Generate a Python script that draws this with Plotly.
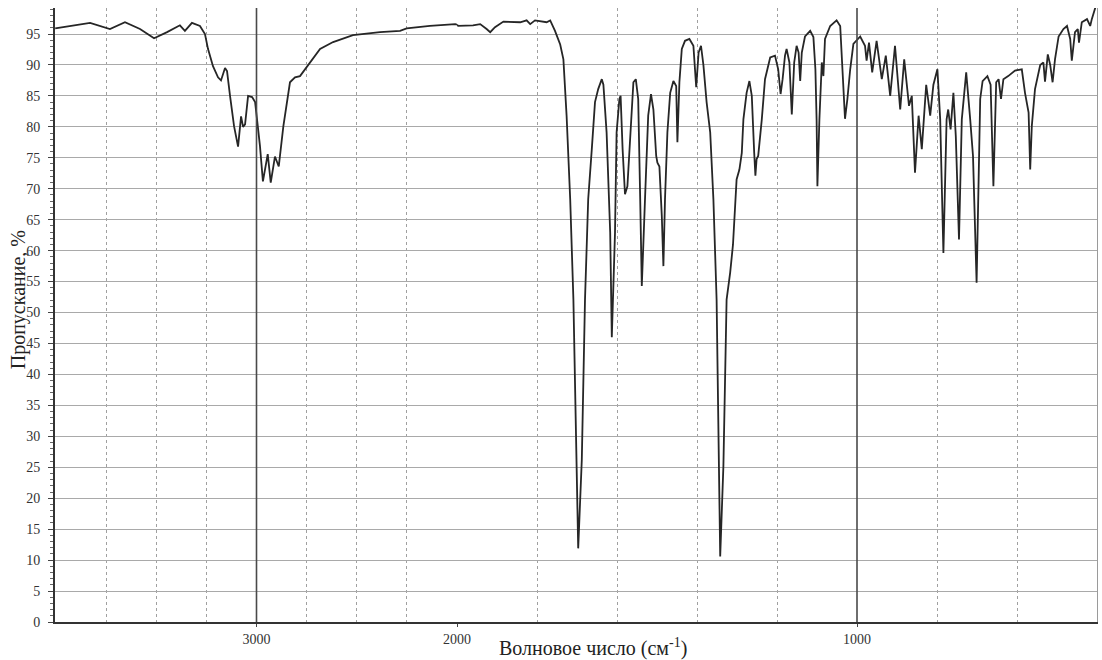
import plotly.graph_objects as go
from plotly.subplots import make_subplots

# IR spectrum (cm-1, % transmittance)
WAVENUMBER = [
    4004, 3830, 3731, 3656, 3581, 3511, 3446, 3382, 3357, 3322, 3282, 3257,
    3242, 3217, 3192, 3177, 3157, 3147, 3132, 3112, 3092, 3082, 3077, 3067,
    3057, 3042, 3022, 3007, 2983, 2968, 2944, 2929, 2908, 2889, 2866, 2833,
    2808, 2783, 2758, 2725, 2683, 2618, 2519, 2384, 2284, 2251, 2135, 2009,
    2000,
    1997, 1960, 1942, 1926, 1917, 1905, 1884, 1842, 1826, 1817, 1805, 1776,
    1767, 1755, 1742, 1734, 1726, 1717, 1709, 1697, 1688, 1680, 1672, 1663,
    1655, 1647, 1638, 1634, 1626, 1617, 1613, 1605, 1601, 1594, 1591, 1586,
    1580, 1574, 1567, 1559, 1553, 1547, 1542, 1538, 1530, 1522, 1515, 1509,
    1502, 1499, 1494, 1488, 1484, 1480, 1474, 1467, 1459, 1452, 1449, 1444,
    1438, 1430, 1419, 1409, 1402, 1396, 1390, 1384, 1376, 1367, 1359, 1351,
    1342, 1334, 1326, 1317, 1310, 1301, 1294, 1288, 1284, 1276, 1269, 1263,
    1257, 1254, 1251, 1247, 1238, 1230, 1217, 1205, 1197, 1194, 1191, 1186,
    1180, 1176, 1169, 1163, 1157, 1151, 1146, 1142, 1138, 1130, 1117, 1109,
    1104, 1101, 1099, 1094, 1088, 1084, 1080, 1067, 1051, 1042, 1036, 1030,
    1024, 1017, 1009, 992, 980, 976, 970, 962, 951, 938, 928, 917, 905, 892,
    882, 870, 863, 855, 846, 838, 827, 817, 809, 799, 792, 784, 776, 772,
    766, 759, 753, 745, 738, 727, 717, 710, 701, 692, 686, 674, 666, 659,
    652, 646, 640, 634, 622, 605, 588, 580, 571, 567, 563, 555, 542, 534,
    530, 523, 517, 511, 505, 496, 484, 475, 467, 463, 455, 448, 445, 438,
    425, 417, 413, 404,
]
TRANSMITTANCE = [
    95.9, 96.8, 95.8, 96.9, 95.8, 94.3, 95.3, 96.4, 95.5, 96.8, 96.3, 95.0,
    92.6, 89.8, 88.0, 87.5, 89.5, 89.0, 85.0, 80.1, 76.8, 80.0, 81.7, 80.0,
    80.4, 85.0, 84.8, 84.0, 77.0, 71.2, 75.6, 71.0, 75.2, 73.6, 80.1, 87.2,
    88.0, 88.2, 89.3, 90.7, 92.6, 93.7, 94.8, 95.3, 95.5, 95.9, 96.3, 96.6,
    96.5,
    96.3, 96.4, 96.6, 95.8, 95.3, 96.1, 97.0, 96.9, 97.2, 96.6, 97.2, 96.9,
    97.2, 95.5, 93.3, 90.9, 81.8, 68.3, 52.1, 11.9, 26.2, 52.1, 68.3, 76.4,
    84.0, 86.1, 87.7, 86.8, 79.1, 62.9, 46.0, 62.9, 79.1, 84.5, 85.0, 76.4,
    69.1, 70.4, 79.1, 87.2, 87.7, 84.5, 68.3, 54.3, 68.3, 81.8, 85.3, 82.8,
    75.3, 74.2, 73.6, 65.6, 57.5, 68.3, 79.1, 85.5, 87.4, 86.6, 77.5, 87.2,
    92.6, 93.9, 94.2, 93.1, 86.4, 92.0, 93.1, 90.0, 84.0, 79.1, 68.3, 52.1,
    10.6, 25.2, 52.1, 56.5, 61.0, 71.5, 73.1, 75.8, 81.2, 85.5, 87.4, 85.0,
    75.8, 72.1, 74.8, 75.3, 81.2, 87.7, 91.2, 91.5, 89.3, 86.8, 85.3, 87.7,
    91.5, 92.6, 90.4, 82.0, 90.4, 93.1, 92.0, 87.4, 92.0, 94.6, 95.5, 94.5,
    89.3, 81.2, 70.4, 81.2, 90.4, 88.2, 94.2, 96.3, 97.2, 96.3, 89.3, 81.3,
    84.5, 89.3, 93.4, 94.6, 93.1, 90.7, 93.6, 88.8, 93.9, 87.7, 91.5, 85.0,
    93.1, 82.8, 90.9, 83.4, 85.0, 72.6, 81.8, 76.4, 86.8, 81.8, 86.8, 89.3,
    81.2, 59.6, 81.2, 82.8, 79.6, 85.5, 78.5, 61.8, 81.2, 88.8, 81.2, 75.3,
    54.8, 84.5, 87.4, 88.2, 86.8, 70.4, 87.2, 87.7, 84.5, 87.7, 88.2, 89.1,
    89.3, 85.5, 82.3, 73.1, 80.1, 86.1, 90.0, 90.4, 87.3, 91.7, 90.0, 87.2,
    90.9, 94.6, 95.8, 96.3, 94.2, 90.7, 95.3, 95.8, 93.6, 96.9, 97.4, 96.3,
    97.4, 99.3,
]

Y_TICKS = list(range(0, 100, 5))
X_TICKS_HIGH = [3000]
X_TICKS_LOW = [2000, 1000]
GRID_HIGH = [3750, 3500, 3250, 2750, 2500, 2250]
GRID_LOW = [2000, 1800, 1600, 1400, 1200, 800, 600]
X1_RANGE = [4005, 2000]
X2_RANGE = [2000, 400]
Y_RANGE = [0, 99.2]

FONT = "Liberation Serif, Times New Roman, serif"
LINE_COLOR = "#262626"
GRID_COLOR = "#a9a9a9"
DOT_COLOR = "#a0a0a0"

brk = X2_RANGE[0]
high_x = [w for w in WAVENUMBER if w >= brk]
high_y = [t for w, t in zip(WAVENUMBER, TRANSMITTANCE) if w >= brk]
low_x = [w for w in WAVENUMBER if w <= brk]
low_y = [t for w, t in zip(WAVENUMBER, TRANSMITTANCE) if w <= brk]

# the scan expands the scale 2x below 2000 cm-1 (402 px above, 640 px below);
# each panel keeps its own y axis with identical range so both draw a grid
fig = make_subplots(
    rows=1,
    cols=2,
    shared_yaxes=False,
    horizontal_spacing=0,
    column_widths=[402, 640],
)

for col, (xs, ys) in enumerate([(high_x, high_y), (low_x, low_y)], start=1):
    fig.add_trace(
        go.Scatter(
            x=xs,
            y=ys,
            mode="lines",
            line={"color": LINE_COLOR, "width": 1.8},
            showlegend=False,
            hoverinfo="x+y",
        ),
        row=1,
        col=col,
    )

axis_common = dict(
    showgrid=False,
    zeroline=False,
    showline=True,
    linecolor="#333333",
    linewidth=2,
    ticks="outside",
    ticklen=3,
    tickcolor="#444444",
    tickfont={"family": FONT, "size": 14, "color": "#333333"},
    ticklabelstandoff=0,
)
fig.update_xaxes(
    range=X1_RANGE,
    tickvals=X_TICKS_HIGH,
    ticktext=[str(v) for v in X_TICKS_HIGH],
    minor={"tickvals": GRID_HIGH, "showgrid": True, "gridcolor": DOT_COLOR,
           "griddash": "dot", "gridwidth": 1, "ticks": ""},
    row=1,
    col=1,
    **axis_common,
)
fig.update_xaxes(
    range=X2_RANGE,
    tickvals=X_TICKS_LOW,
    ticktext=[str(v) for v in X_TICKS_LOW],
    minor={"tickvals": GRID_LOW, "showgrid": True, "gridcolor": DOT_COLOR,
           "griddash": "dot", "gridwidth": 1, "ticks": ""},
    row=1,
    col=2,
    **axis_common,
)
fig.update_yaxes(
    range=Y_RANGE,
    tickvals=Y_TICKS,
    ticktext=[str(v) for v in Y_TICKS],
    showgrid=True,
    gridcolor=GRID_COLOR,
    gridwidth=1.4,
    zeroline=False,
)
fig.update_yaxes(
    showline=True,
    linecolor="#333333",
    linewidth=2,
    ticks="outside",
    ticklen=5,
    tickcolor="#444444",
    minor={"dtick": 1, "ticks": "outside", "ticklen": 3,
           "tickcolor": "#666666", "showgrid": False},
    tickfont={"family": FONT, "size": 14, "color": "#333333"},
    ticklabelstandoff=5,
    row=1,
    col=1,
)
fig.update_yaxes(
    showline=True,
    linecolor="#9a9a9a",
    linewidth=1.2,
    side="right",
    ticks="",
    showticklabels=False,
    row=1,
    col=2,
)

# darker reference lines at 3000 and 1000 cm-1
fig.add_vline(x=3000, line_color="#4a4a4a", line_width=1.6, row=1, col=1)
fig.add_vline(x=1000, line_color="#4a4a4a", line_width=1.6, row=1, col=2)

fig.add_annotation(
    text="Волновое число (см<sup>-1</sup>)",
    xref="paper", yref="paper", x=0.516, y=-0.042,
    xanchor="center", yanchor="middle", showarrow=False,
    font={"family": FONT, "size": 20, "color": "#222222"},
)
fig.add_annotation(
    text="Пропускание, %",
    xref="paper", yref="paper", x=-0.0355, y=0.524,
    xanchor="center", yanchor="middle", textangle=-90, showarrow=False,
    font={"family": FONT, "size": 20, "color": "#222222"},
)

fig.update_layout(
    width=1102,
    height=660,
    margin={"l": 55, "r": 5, "t": 8, "b": 38},
    paper_bgcolor="white",
    plot_bgcolor="white",
    font={"family": FONT},
    showlegend=False,
)

# drop the default page margin so the fixed-size figure fills the window
fig.write_html(
    "out.html",
    config={"displayModeBar": False},
    post_script="document.body.style.margin='0';document.body.style.overflow='hidden';",
)
